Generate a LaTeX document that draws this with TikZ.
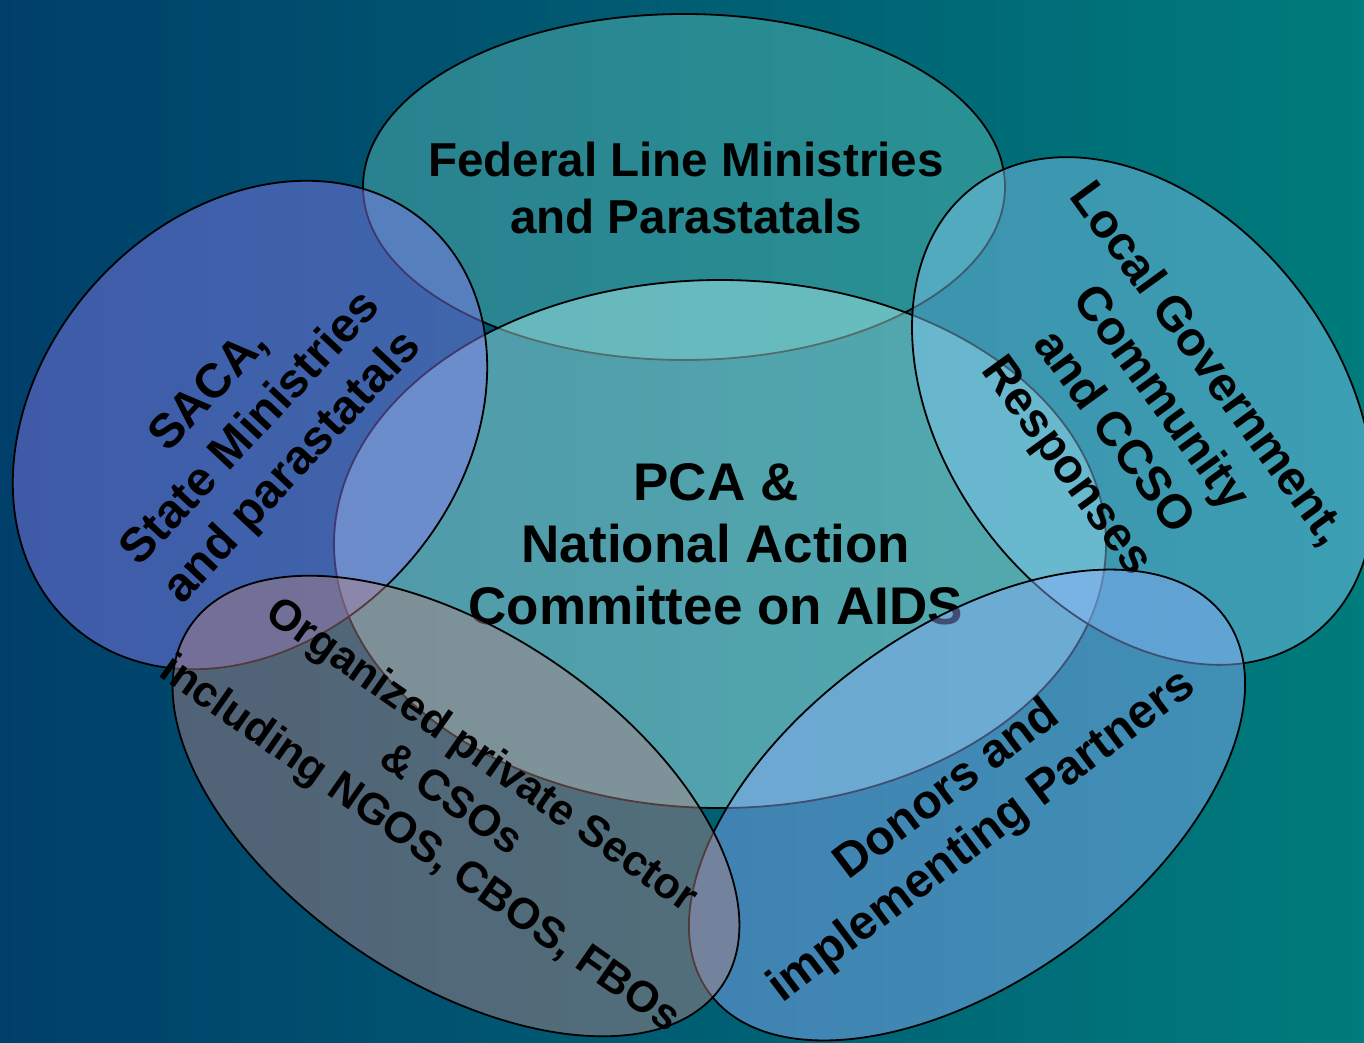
\documentclass[tikz,border=0pt]{standalone}
\usepackage{fontspec}
\setmainfont{Liberation Sans}
\usetikzlibrary{shapes.geometric}
\definecolor{bgleft}{HTML}{003F6A}
\definecolor{bgright}{HTML}{007C7C}
\definecolor{fedfill}{RGB}{92,192,184}
\definecolor{pcafill}{RGB}{180,245,242}
\definecolor{sacafill}{RGB}{140,124,245}
\definecolor{lgafill}{RGB}{134,202,245}
\definecolor{dipfill}{RGB}{142,175,255}
\definecolor{opsfill}{RGB}{180,132,132}
\tikzset{
	venn/.style={ellipse, draw=black, line width=1.8pt, inner sep=0pt, fill=#1, fill opacity=.45},
	venn text/.style 2 args={font=\bfseries\fontsize{#1}{#2}\selectfont, align=center, text=black, inner sep=0pt},
}
\begin{document}
\begin{tikzpicture}[x=1pt,y=-1pt]
	\useasboundingbox (0,0) rectangle (1364,1042);
	\clip (0,0) rectangle (1364,1042);
	\shade [left color=bgleft, right color=bgright] (0,0) rectangle (1364,1042);
	% top and centre
	\node [venn=fedfill, minimum width=642pt, minimum height=346pt] (fed) at (684,187) {};
	\node [venn text={47.6}{57}] (fedtxt) at (686,188) {Federal Line Ministries\\and Parastatals};
	\node [venn=pcafill, minimum width=772pt, minimum height=528pt] (pca) at (720,544) {};
	\node [venn text={53}{62}] (pcatxt) at (716,544) {PCA \&\\National Action\\Committee on AIDS};
	% sides
	\node [venn=sacafill, minimum width=536pt, minimum height=420pt, rotate=48.5] (saca) at (250,425) {};
	\node [venn text={48}{57}, rotate=47] (sacatxt) at (252,430) {SACA,\\State Ministries\\and parastatals};
	\node [venn=lgafill, minimum width=562pt, minimum height=394pt, rotate=-53] (lga) at (1143,411) {};
	\node [venn text={48}{58}, rotate=-54] (lgatxt) at (1136,416) {Local Government,\\Community\\and CCSO\\Responses};
	% bottom
	\node [venn=dipfill, minimum width=638pt, minimum height=352pt, rotate=36] (dip) at (967,805) {};
	\node [venn text={48}{58}, rotate=37] (diptxt) at (965,814) {Donors and\\implementing Partners};
	\node [venn=opsfill, minimum width=642pt, minimum height=348pt, rotate=-34] (ops) at (456,806) {};
	\node [venn text={43.5}{54}, rotate=-35] (opstxt) at (450,801) {Organized private Sector\\\& CSOs\\including NGOS, CBOS, FBOs};
\end{tikzpicture}
\end{document}
